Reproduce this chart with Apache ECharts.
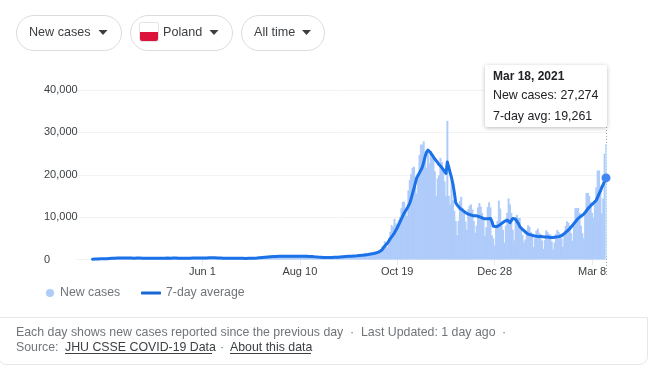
<!DOCTYPE html>
<html><head><meta charset="utf-8">
<style>html,body{margin:0;padding:0;background:#fff}#c{width:649px;height:366px}</style>
<script src="https://cdn.jsdelivr.net/npm/echarts@6/dist/echarts.min.js"></script>
</head><body><div id="c"></div>
<script>
const firstDay = '2020-03-03';
const leadingEmptyDays = 11;
const tickDates = ['2020-06-01','2020-08-10','2020-10-19','2020-12-28','2021-03-08'];
const tickLabels = ['Jun 1','Aug 10','Oct 19','Dec 28','Mar 8'];
const yTicks = [0,10000,20000,30000,40000];
const newCases = [
40,35,50,60,80,100,110,
110,115,130,150,170,200,190,
190,170,250,240,260,390,280,
370,340,270,240,370,350,400,
300,270,310,290,380,340,360,
330,270,290,310,380,340,320,
310,280,300,340,310,350,330,
330,260,310,300,330,320,340,
280,290,270,300,320,400,330,
300,270,390,480,320,310,280,
280,260,280,290,300,310,290,
300,330,360,380,420,400,370,
340,330,300,320,350,400,560,
480,420,300,370,380,330,300,
310,280,300,320,350,300,320,
290,270,280,290,300,300,280,
260,250,250,280,270,290,310,
290,270,290,310,340,370,400,
380,340,420,500,560,610,640,
600,500,620,680,790,810,780,
720,620,710,790,840,800,800,
790,720,730,810,820,850,840,
760,690,700,780,830,810,790,
640,600,550,680,720,700,640,
520,470,480,550,600,560,520,
460,430,480,560,620,640,650,
640,600,700,790,810,790,760,
860,800,800,950,1000,1050,1100,
1580,1380,1000,1130,1330,1550,1590,
1930,1310,1330,2240,2370,3000,3280,
4280,3000,2900,5070,6530,8100,7700,
9620,8540,7480,9290,10040,12110,13630,
13630,11740,10240,16300,18820,20160,21630,
21900,17170,15580,19360,24690,27140,27090,
27880,24790,21710,25220,22680,25570,24050,
24210,20820,15000,19150,19880,23980,23000,
21130,18470,15000,32730,15000,13000,19000,
14000,11480,9100,5730,9100,13860,14800,
12200,10900,9000,7000,11900,12700,13000,
11800,9100,6300,8000,12300,13300,12500,
11000,9700,5600,7600,12400,13500,12300,
5700,5000,3300,7300,9100,13900,12000,
8000,7000,4000,8000,11000,14400,13000,
11000,7000,4500,10000,10500,9800,9800,
7000,5800,4000,4700,6900,8100,7700,
6500,5900,2900,5000,6800,7300,6300,
6000,4500,2500,4600,6900,6500,6000,
5900,4300,2400,4000,6000,7000,6500,
6100,5000,3000,5800,7900,9000,8700,
8000,6200,4400,7900,12100,12100,12150,
11000,8000,6200,5000,11000,15700,15700,
15000,13500,11000,9900,13000,17000,21000,
21000,17400,10900,14400,25000,27274
];
const sevenDayAvg = [
60,75,90,110,125,140,150,
160,170,190,200,210,230,250,
270,290,310,330,340,350,350,
350,340,340,350,350,340,330,
330,320,320,330,330,340,340,
330,320,310,310,320,320,320,
320,320,310,300,300,310,310,
300,300,300,310,320,330,320,
310,320,350,360,340,330,320,
310,300,300,290,280,280,290,
300,320,340,360,370,380,370,
360,350,340,330,330,340,370,
410,430,430,410,390,370,350,
340,330,320,320,310,300,300,
300,300,290,290,280,280,280,
290,280,270,270,260,260,270,
280,290,300,310,320,330,350,
370,400,430,460,500,530,560,
590,620,650,680,700,710,720,
730,740,750,760,770,770,780,
780,780,780,780,770,770,780,
790,790,800,790,780,770,760,
750,740,730,700,680,650,620,
590,570,550,540,520,500,490,
480,470,470,480,490,510,530,
520,540,560,590,620,650,680,
700,720,740,770,790,820,850,
870,890,920,950,980,1010,1040,
1080,1120,1160,1220,1280,1340,1400,
1480,1570,1680,1820,2000,2250,2550,
3150,3500,3900,4400,4900,5300,5800,
6300,6900,7500,8200,8900,9600,10300,
11000,11500,12000,12400,13300,14400,15600,
16800,18000,19300,19900,20500,21100,21800,
23000,24300,25300,25800,25700,25200,24700,
24200,23700,23300,22900,22400,22000,21700,
21300,20800,20300,23000,21800,20500,19300,
17800,15800,13400,12900,12500,12100,11800,
11600,11300,11100,10900,10700,10600,10500,
10400,10300,10300,10300,10200,10100,9900,
9800,9700,9600,9600,9600,9700,9700,
9000,7900,7700,7700,7800,8000,8200,
8500,8800,9000,9200,9300,9000,8700,
9100,9700,9900,9500,9000,8500,7800,
7400,7100,6800,6500,6200,6000,5900,
5800,5700,5600,5500,5500,5500,5400,
5400,5400,5300,5300,5300,5300,5300,
5200,5200,5200,5300,5300,5400,5400,
5500,5600,5800,6100,6400,6700,7000,
7300,7700,8100,8500,8900,9300,9700,
10000,10200,10400,10700,11100,11500,12000,
12300,12700,13000,13300,13500,14000,14700,
15500,16200,17000,17700,18500,19261
];

const pad = Array(leadingEmptyDays).fill(null);
const barData = pad.concat(newCases);
const lineData = pad.concat(sevenDayAvg);
const categories = barData.map((_, i) => {
  const d = new Date(firstDay + 'T00:00:00Z');
  d.setUTCDate(d.getUTCDate() + i);
  return d.toISOString().slice(0, 10);
});
const last = categories.length - 1;
const fmt = n => n.toLocaleString('en-US');
const FONT = '"Liberation Sans", Arial, sans-serif';
const CSSFONT = "'Liberation Sans', Arial, sans-serif";
const font = s => s + 'px ' + FONT;
const CHIP = '#dadce0', INK = '#3c4043', MUTED = '#70757a';
const text = (t, x, y, fill, size) => ({type:'text', silent:true, style:{text:t, x, y, fill, font:font(size), verticalAlign:'middle'}});
const chip = (x, w) => ({type:'rect', silent:true, shape:{x:x+.5, y:15.5, width:w, height:35, r:17.5}, style:{fill:'#fff', stroke:CHIP, lineWidth:1}});
const caret = x => ({type:'polygon', silent:true, shape:{points:[[x,30],[x+9,30],[x+4.5,35]]}, style:{fill:INK}});
const rule = (x1, x2, y, col) => ({type:'line', silent:true, shape:{x1, y1:y, x2, y2:y}, style:{stroke:col, lineWidth:1}});

const el = document.getElementById('c');
const chart = echarts.init(el, null, {renderer:'canvas', width:649, height:366});
chart.setOption({
  animation:false,
  backgroundColor:'#fff',
  grid:{left:76.5, right:42.3, top:90, bottom:106.5, containLabel:false},
  xAxis:{
    type:'category', data:categories, boundaryGap:true,
    axisLine:{show:false},
    axisTick:{show:true, alignWithLabel:true, length:6, lineStyle:{color:'#e8eaed'}, interval:(i, v) => tickDates.includes(v)},
    axisLabel:{interval:(i, v) => tickDates.includes(v), formatter:v => tickLabels[tickDates.indexOf(v)] || '', color:INK, fontSize:11, fontFamily:FONT, margin:7},
    splitLine:{show:false}
  },
  yAxis:{
    type:'value', min:yTicks[0], max:yTicks[yTicks.length-1], interval:yTicks[1]-yTicks[0],
    axisLine:{show:false}, axisTick:{show:false},
    axisLabel:{formatter:v => fmt(v), color:INK, fontSize:11, fontFamily:FONT, align:'left', margin:32.5},
    splitLine:{lineStyle:{color:'#f1f3f4', width:1}}
  },
  legend:[
    {data:['New cases'], icon:'circle', left:41, top:282, itemWidth:8, itemHeight:8, itemGap:0, selectedMode:false, textStyle:{color:MUTED, fontSize:12.3, fontFamily:FONT, padding:[0,0,0,1]}},
    {data:['7-day average'], icon:'roundRect', left:136, top:282, itemWidth:20, itemHeight:3, selectedMode:false, textStyle:{color:MUTED, fontSize:12.3, fontFamily:FONT}}
  ],
  tooltip:{
    trigger:'axis', alwaysShowContent:true, transitionDuration:0, position:[485,65],
    axisPointer:{type:'line', lineStyle:{opacity:0}}, padding:[4,8,4,8], backgroundColor:'#fff', borderWidth:0,
    extraCssText:'box-shadow:0 1px 4px rgba(60,64,67,.35);border-radius:2px;width:106px;height:54px;white-space:nowrap;',
    formatter:() => '<div style="font:bold 12px/15px ' + CSSFONT + ';color:#202124;margin-bottom:1px">Mar 18, 2021</div>' +
      '<div style="font:12.4px/20.5px ' + CSSFONT + ';color:#202124">New cases: ' + fmt(barData[last]) + '</div>' +
      '<div style="font:12.4px/20.5px ' + CSSFONT + ';color:#202124">7-day avg: ' + fmt(lineData[last]) + '</div>'
  },
  series:[
    {name:'New cases', type:'bar', data:barData, barWidth:2, itemStyle:{color:'#aecbfa'}, z:2},
    {name:'7-day average', type:'line', data:lineData, showSymbol:false, symbol:'none', lineStyle:{color:'#1967d2', width:3, cap:'round', join:'round'}, itemStyle:{color:'#1967d2'}, z:3,
     markPoint:{silent:true, symbol:'circle', symbolSize:9, itemStyle:{color:'#4285f4'}, label:{show:false}, data:[{coord:[categories[last], lineData[last]]}]}}
  ],
  graphic:[
    chip(16,105), chip(130,102), chip(241,83),
    text('New cases', 29, 32.5, INK, 12.6), caret(98.5),
    {type:'rect', silent:true, shape:{x:139.5, y:22.5, width:19, height:19, r:2}, style:{fill:'#fff', stroke:'#e3e3e3'}},
    {type:'rect', silent:true, shape:{x:140, y:32, width:18, height:9, r:[0,0,2,2]}, style:{fill:'#dc143c'}},
    text('Poland', 163, 32.5, INK, 12.6), caret(209.5),
    text('All time', 254, 32.5, INK, 12.6), caret(302),
    {type:'rect', silent:true, shape:{x:-1.5, y:317.5, width:649, height:47, r:[0,0,8,8]}, style:{fill:'#fff', stroke:'#e6e6e6'}},
    text('Each day shows new cases reported since the previous day', 16, 332.5, MUTED, 12.35),
    text('·', 350, 332.5, MUTED, 12.35),
    text('Last Updated: 1 day ago', 361, 332.5, MUTED, 12.35),
    text('·', 502, 332.5, MUTED, 12.35),
    text('Source:', 16, 347.5, MUTED, 12.35),
    text('JHU CSSE COVID-19 Data', 65, 347.5, INK, 12.35), rule(65, 212, 353.5, INK),
    text('·', 220, 347.5, MUTED, 12.35),
    text('About this data', 230, 347.5, INK, 12.35), rule(230, 311, 353.5, INK)
  ]
});
const crossX = Math.round(chart.convertToPixel({xAxisIndex:0}, last)) + .5;
chart.setOption({graphic:[{id:'cross', type:'line', silent:true, z:1, shape:{x1:crossX, y1:127, x2:crossX, y2:277}, style:{stroke:'#9aa0a6', lineWidth:1, lineDash:[1,2]}}]});
chart.dispatchAction({type:'showTip', seriesIndex:1, dataIndex:last});
</script></body></html>
